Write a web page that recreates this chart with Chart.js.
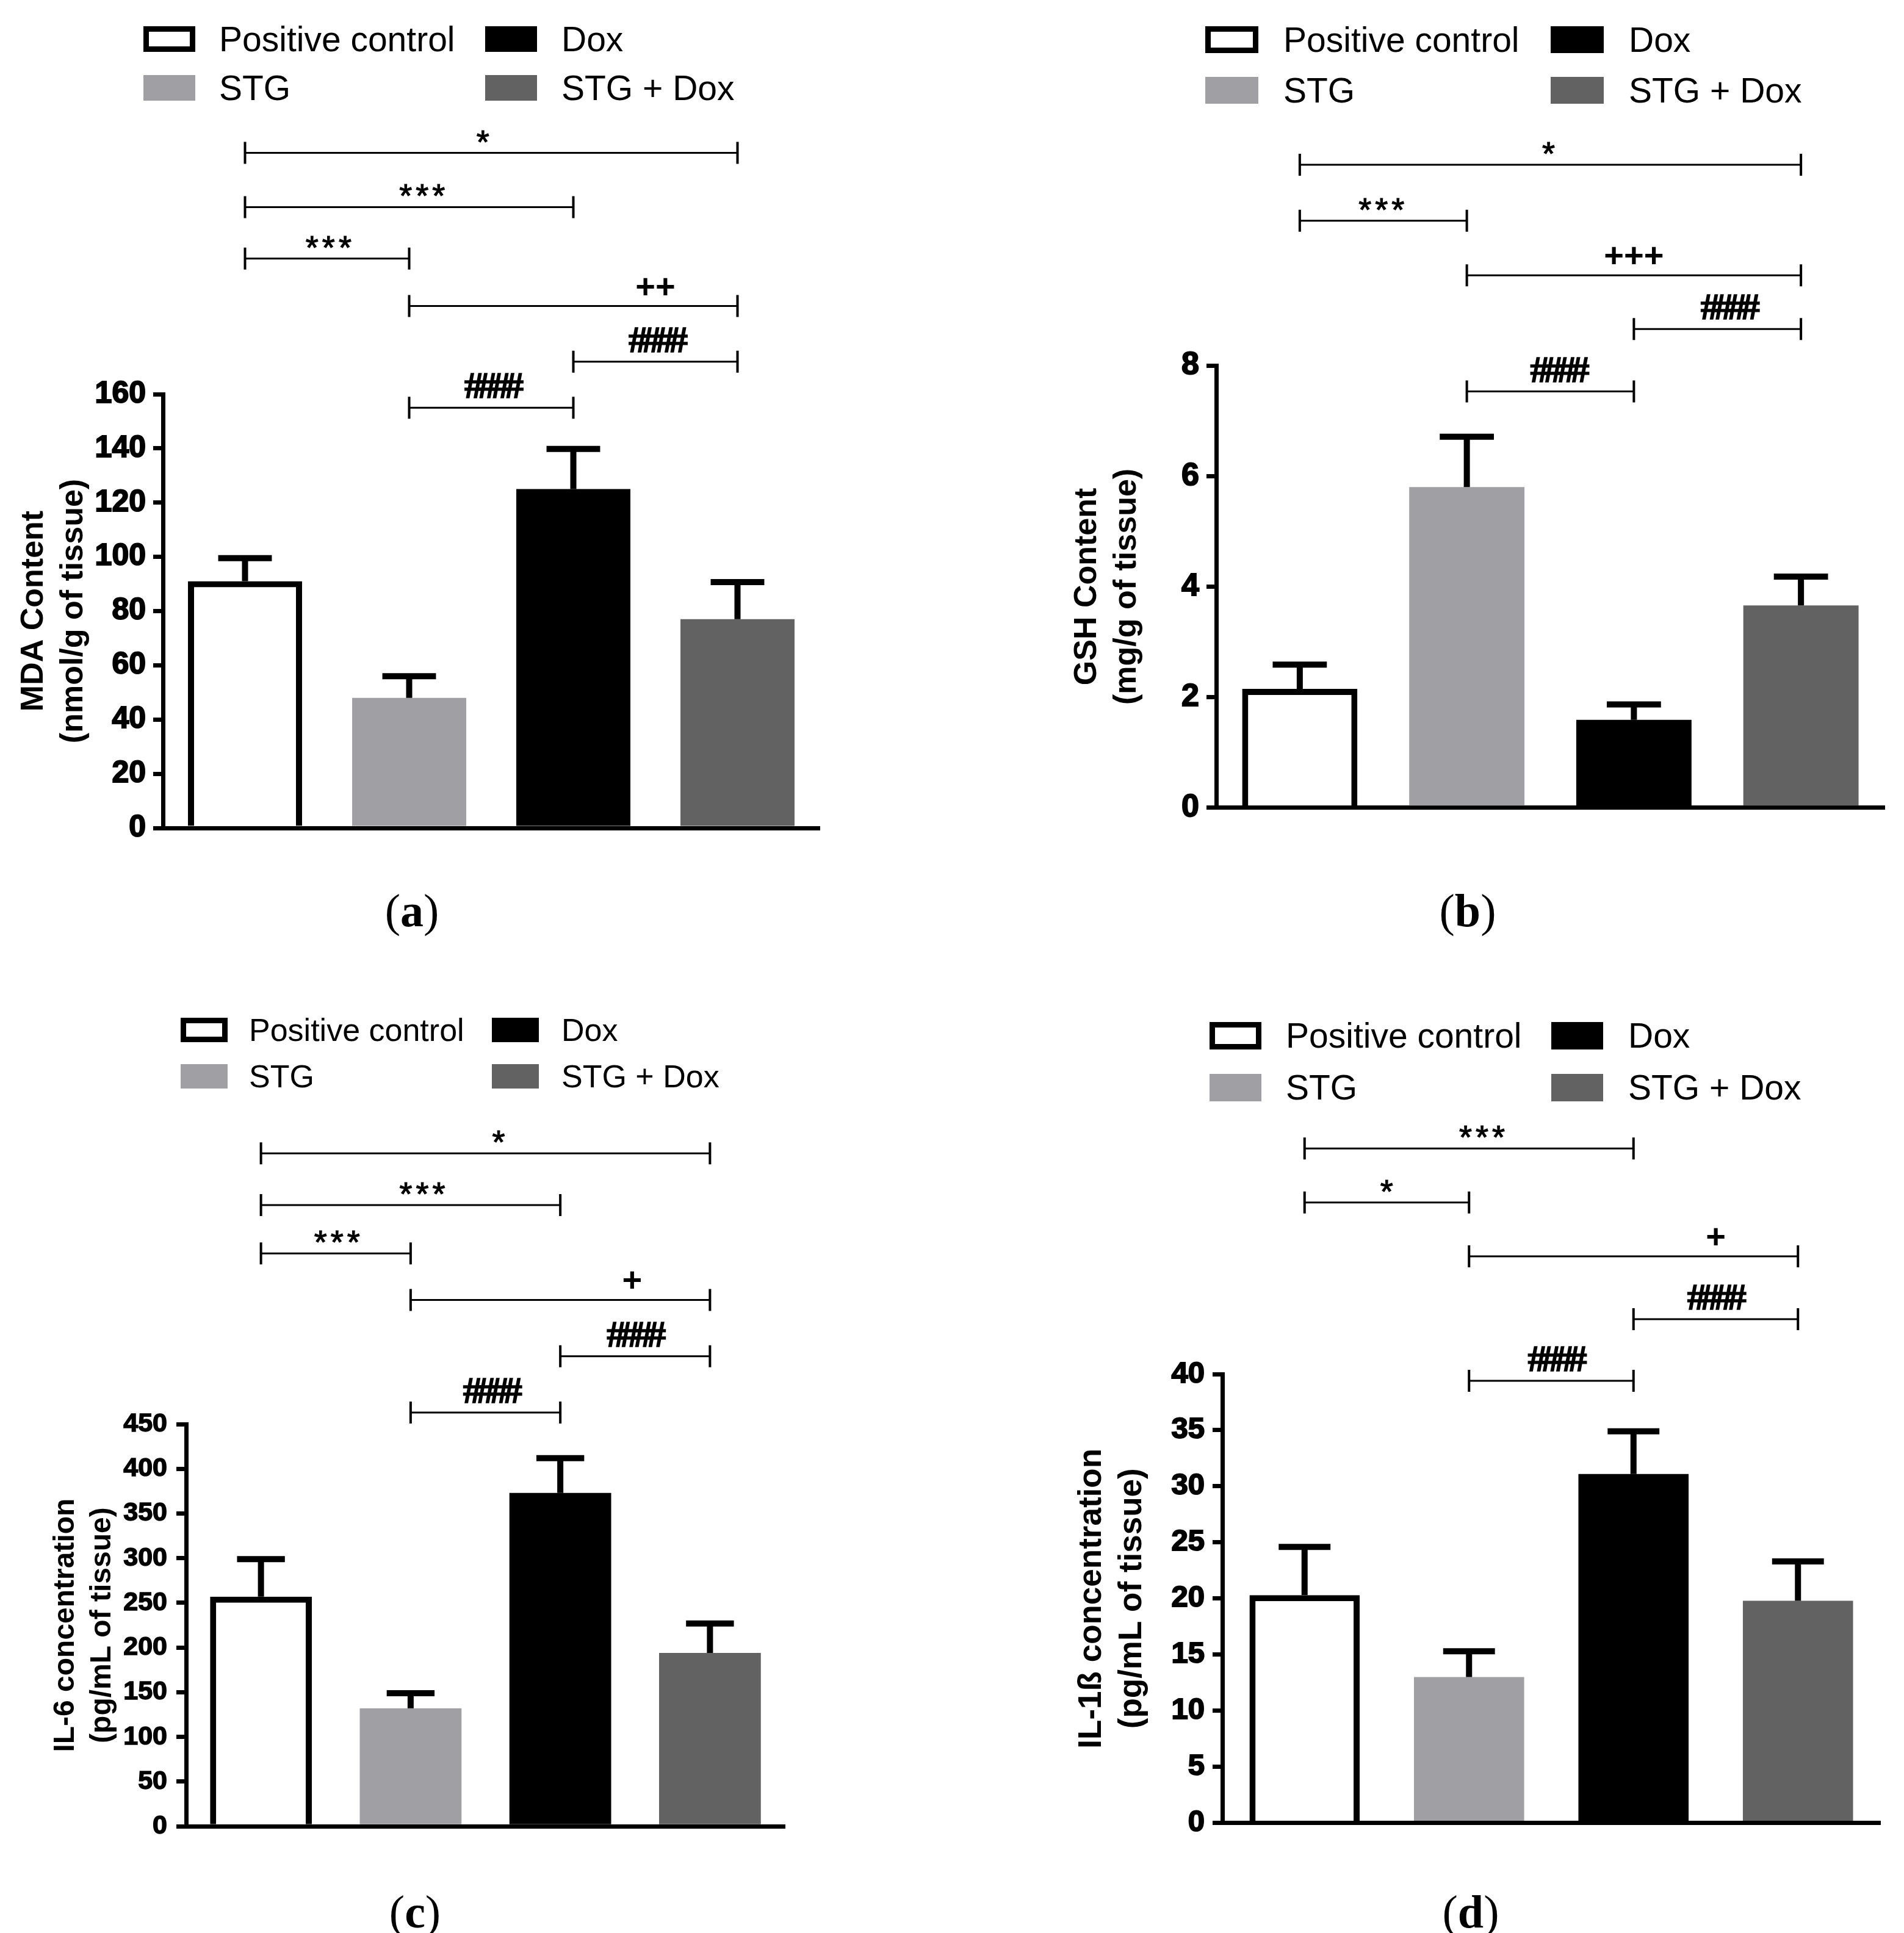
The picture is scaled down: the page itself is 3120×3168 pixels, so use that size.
<!DOCTYPE html>
<html>
<head>
<meta charset="utf-8">
<script src="https://cdn.jsdelivr.net/npm/chart.js@4.4.1/dist/chart.umd.min.js"></script>
<style>
  html, body { margin: 0; padding: 0; background: #fff; }
  #page { position: relative; width: 3120px; height: 3168px; overflow: hidden; background: #fff;
          font-family: 'Liberation Sans', Arial, sans-serif; }
  #page canvas { position: absolute; }
  .lg-box { position: absolute; box-sizing: border-box; }
  .lg-txt { position: absolute; line-height: 1; white-space: nowrap; transform: translateY(-50%); color: #000; }
  .cap { position: absolute; font-family: 'Liberation Serif', 'Times New Roman', serif; font-size: 76px;
         line-height: 1; transform: translate(-50%, -50%); color: #000; }
</style>
</head>
<body>
<div id="page"></div>
<script>
// groups (same in every panel)
const groups = ['Positive control', 'STG', 'Dox', 'STG + Dox'];
const groupColors = ['#ffffff', '#a0a0a4', '#000000', '#626262'];

// (a) MDA content, nmol/g of tissue
const mdaMean = [91, 48, 125, 77];
const mdaSem = [8.5, 8, 14.8, 13.7];
const mdaTicks = { max: 160, step: 20 };
// [from, to, level (axis units), label, label position (category index)]
const mdaBrackets = [
  [0, 3, 249, '*', 1.46],
  [0, 2, 229, '***', 1.09],
  [0, 1, 210, '***', 0.52],
  [1, 3, 192.5, '++', 2.5],
  [2, 3, 172, '####', 2.5],
  [1, 2, 155, '####', 1.5]
];

// (b) GSH content, mg/g of tissue
const gshMean = [2.15, 5.8, 1.59, 3.66];
const gshSem = [0.44, 0.91, 0.28, 0.52];
const gshTicks = { max: 8, step: 2 };
const gshBrackets = [
  [0, 3, 11.63, '*', 1.5],
  [0, 1, 10.62, '***', 0.5],
  [1, 3, 9.63, '+++', 2.0],
  [2, 3, 8.66, '####', 2.56],
  [1, 2, 7.53, '####', 1.54]
];

// (c) IL-6, pg/mL of tissue
const il6Mean = [257, 132, 373, 194];
const il6Sem = [42, 17, 39, 33];
const il6Ticks = { max: 450, step: 50 };
const il6Brackets = [
  [0, 3, 753, '*', 1.6],
  [0, 2, 695, '***', 1.09],
  [0, 1, 641, '***', 0.52],
  [1, 3, 589, '+', 2.48],
  [2, 3, 526, '####', 2.49],
  [1, 2, 463, '####', 1.53]
];

// (d) IL-1ß, pg/mL of tissue
const il1bMean = [20.3, 13.0, 31.1, 19.8];
const il1bSem = [4.3, 2.3, 3.8, 3.5];
const il1bTicks = { max: 40, step: 5 };
const il1bBrackets = [
  [0, 2, 60.1, '***', 1.09],
  [0, 1, 55.3, '*', 0.51],
  [1, 3, 50.5, '+', 2.5],
  [2, 3, 44.9, '####', 2.49],
  [1, 2, 39.4, '####', 1.52]
];

const SANS = "'Liberation Sans', Arial, sans-serif";
const SERIF = "'Liberation Serif', 'Times New Roman', serif";
Chart.defaults.font.family = SANS;
Chart.defaults.color = '#000';

// layout of the four panels (page pixels)
const panels = [
  { key: 'a', mean: mdaMean, sem: mdaSem, ticks: mdaTicks, brackets: mdaBrackets,
    title: ['MDA Content', '(nmol/g of tissue)'], titleSize: 52, titleX: 56,
    tickSize: 50, tickPad: 12, tickStroke: 2, barPct: 0.695,
    canvas: { left: 0, top: 170, width: 1560, height: 1229 },
    area: { left: 267, top: 646, right: 1343, bottom: 1359 },
    legend: { rows: [64, 144], boxX: [235, 795], txtX: [359, 920], box: [85, 42], font: 57 },
    caption: { x: 675, y: 1492 } },
  { key: 'b', mean: gshMean, sem: gshSem, ticks: gshTicks, brackets: gshBrackets,
    title: ['GSH Content', '(mg/g of tissue)'], titleSize: 52, titleX: 1782,
    tickSize: 52, tickPad: 12, tickStroke: 2, barPct: 0.69,
    canvas: { left: 1560, top: 170, width: 1560, height: 1197 },
    area: { left: 1993, top: 599, right: 3088, bottom: 1327 },
    legend: { rows: [65, 148], boxX: [1975, 2541], txtX: [2103, 2669], box: [87, 44], font: 57 },
    caption: { x: 2405, y: 1492 } },
  { key: 'c', mean: il6Mean, sem: il6Sem, ticks: il6Ticks, brackets: il6Brackets,
    title: ['IL-6 concentration', '(pg/mL of tissue)'], titleSize: 48, titleX: 108,
    tickSize: 43, tickPad: 15, tickStroke: 1.5, barPct: 0.68,
    canvas: { left: 0, top: 1800, width: 1560, height: 1234 },
    area: { left: 305, top: 2334, right: 1286, bottom: 2994 },
    legend: { rows: [1688, 1764], boxX: [296, 806], txtX: [408, 920], box: [77, 40], font: 52 },
    caption: { x: 680, y: 3133 } },
  { key: 'd', mean: il1bMean, sem: il1bSem, ticks: il1bTicks, brackets: il1bBrackets,
    title: ['IL-1ß concentration', '(pg/mL of tissue)'], titleSize: 53, titleX: 1789,
    tickSize: 49, tickPad: 13, tickStroke: 2, barPct: 0.67,
    canvas: { left: 1560, top: 1800, width: 1560, height: 1230 },
    area: { left: 2003, top: 2252, right: 3081, bottom: 2990 },
    legend: { rows: [1697, 1782], boxX: [1982, 2542], txtX: [2107, 2668], box: [85, 45], font: 57 },
    caption: { x: 2410, y: 3133 } }
];

const page = document.getElementById('page');

// upward-only SEM bars with a cap
function errorBarPlugin(p) {
  return {
    id: 'errorBars_' + p.key,
    afterDatasetsDraw(chart) {
      const ctx = chart.ctx;
      const y = chart.scales.y;
      const meta = chart.getDatasetMeta(0);
      ctx.save();
      ctx.strokeStyle = '#000';
      ctx.lineWidth = 10;
      ctx.lineCap = 'butt';
      meta.data.forEach((bar, i) => {
        const top = y.getPixelForValue(p.mean[i] + p.sem[i]);
        const half = bar.width * 0.235;
        ctx.beginPath();
        ctx.moveTo(bar.x, bar.y);
        ctx.lineTo(bar.x, top);
        ctx.moveTo(bar.x - half, top);
        ctx.lineTo(bar.x + half, top);
        ctx.stroke();
      });
      ctx.restore();
    }
  };
}

function labelStyle(txt) {
  if (txt[0] === '*') return { font: '54px ' + SANS, spacing: '6px', lift: 0, stroke: 1.2 };
  if (txt[0] === '+') return { font: 'bold 56px ' + SANS, spacing: '0px', lift: 14, stroke: 0 };
  return { font: 'bold 62px ' + SERIF, spacing: '-9px', lift: 16, stroke: 1.5 };
}

// significance brackets above the bars
function bracketPlugin(p) {
  return {
    id: 'brackets_' + p.key,
    afterDraw(chart) {
      const ctx = chart.ctx;
      const x = chart.scales.x, y = chart.scales.y;
      ctx.save();
      ctx.strokeStyle = '#000';
      ctx.fillStyle = '#000';
      p.brackets.forEach(([from, to, level, txt, at]) => {
        const x1 = x.getPixelForValue(from), x2 = x.getPixelForValue(to);
        const yy = y.getPixelForValue(level);
        ctx.lineWidth = 3;
        ctx.beginPath();
        ctx.moveTo(x1, yy);
        ctx.lineTo(x2, yy);
        ctx.stroke();
        ctx.lineWidth = 4;
        ctx.beginPath();
        ctx.moveTo(x1, yy - 18); ctx.lineTo(x1, yy + 18);
        ctx.moveTo(x2, yy - 18); ctx.lineTo(x2, yy + 18);
        ctx.stroke();
        const st = labelStyle(txt);
        ctx.font = st.font;
        ctx.letterSpacing = st.spacing;
        ctx.textAlign = 'center';
        ctx.textBaseline = 'alphabetic';
        const tx = x.getPixelForValue(at), ty = yy - st.lift;
        ctx.fillText(txt, tx, ty);
        if (st.stroke) {
          ctx.lineWidth = st.stroke;
          ctx.strokeText(txt, tx, ty);
        }
      });
      ctx.restore();
    }
  };
}

function addLegend(p) {
  const L = p.legend;
  // row 1: Positive control, Dox ; row 2: STG, STG + Dox
  const order = [[0, 2], [1, 3]];
  order.forEach((row, r) => {
    row.forEach((gi, c) => {
      const box = document.createElement('div');
      box.className = 'lg-box';
      box.style.left = L.boxX[c] + 'px';
      box.style.top = (L.rows[r] - L.box[1] / 2) + 'px';
      box.style.width = L.box[0] + 'px';
      box.style.height = L.box[1] + 'px';
      box.style.background = groupColors[gi];
      if (gi === 0) box.style.border = '9px solid #000';
      page.appendChild(box);
      const t = document.createElement('div');
      t.className = 'lg-txt';
      t.style.left = L.txtX[c] + 'px';
      t.style.top = L.rows[r] + 'px';
      t.style.fontSize = L.font + 'px';
      t.textContent = groups[gi];
      page.appendChild(t);
    });
  });
}

function addCaption(p) {
  const d = document.createElement('div');
  d.className = 'cap';
  d.style.left = p.caption.x + 'px';
  d.style.top = p.caption.y + 'px';
  d.innerHTML = '(<b>' + p.key + '</b>)';
  page.appendChild(d);
}

function drawPanel(p) {
  const cv = document.createElement('canvas');
  cv.width = p.canvas.width;
  cv.height = p.canvas.height;
  cv.style.left = p.canvas.left + 'px';
  cv.style.top = p.canvas.top + 'px';
  cv.style.width = p.canvas.width + 'px';
  cv.style.height = p.canvas.height + 'px';
  page.appendChild(cv);

  const yWidth = p.area.left - p.canvas.left;
  const titleLine = p.titleSize * 1.25;

  new Chart(cv.getContext('2d'), {
    type: 'bar',
    data: {
      labels: groups,
      datasets: [{
        data: p.mean,
        backgroundColor: groupColors,
        borderColor: '#000',
        borderWidth: [10, 0, 0, 0],
        borderSkipped: 'start',
        barPercentage: p.barPct,
        categoryPercentage: 1
      }]
    },
    options: {
      responsive: false,
      animation: false,
      devicePixelRatio: 1,
      layout: {
        padding: {
          left: 0,
          top: p.area.top - p.canvas.top,
          right: p.canvas.left + p.canvas.width - p.area.right,
          bottom: p.canvas.top + p.canvas.height - p.area.bottom
        }
      },
      plugins: { legend: { display: false }, tooltip: { enabled: false } },
      scales: {
        x: {
          z: 1,
          grid: { display: false },
          ticks: { display: false },
          border: { display: true, color: '#000', width: 7 },
          afterFit: s => { s.height = 0; }
        },
        y: {
          z: 1,
          min: 0,
          max: p.ticks.max,
          afterFit: s => { s.width = yWidth; },
          ticks: {
            stepSize: p.ticks.step,
            color: '#000',
            padding: p.tickPad,
            textStrokeColor: '#000',
            textStrokeWidth: p.tickStroke,
            font: { size: p.tickSize, weight: 'bold' }
          },
          grid: { display: true, drawOnChartArea: false, drawTicks: true, tickLength: 16, lineWidth: 7, color: '#000' },
          border: { display: true, color: '#000', width: 7 },
          title: {
            display: true,
            text: p.title,
            color: '#000',
            font: { size: p.titleSize, weight: 'bold', lineHeight: 1.25 },
            padding: { top: p.titleX - p.canvas.left - titleLine / 2, bottom: 0 }
          }
        }
      }
    },
    plugins: [errorBarPlugin(p), bracketPlugin(p)]
  });

  addLegend(p);
  addCaption(p);
}

panels.forEach(drawPanel);
</script>
</body>
</html>
